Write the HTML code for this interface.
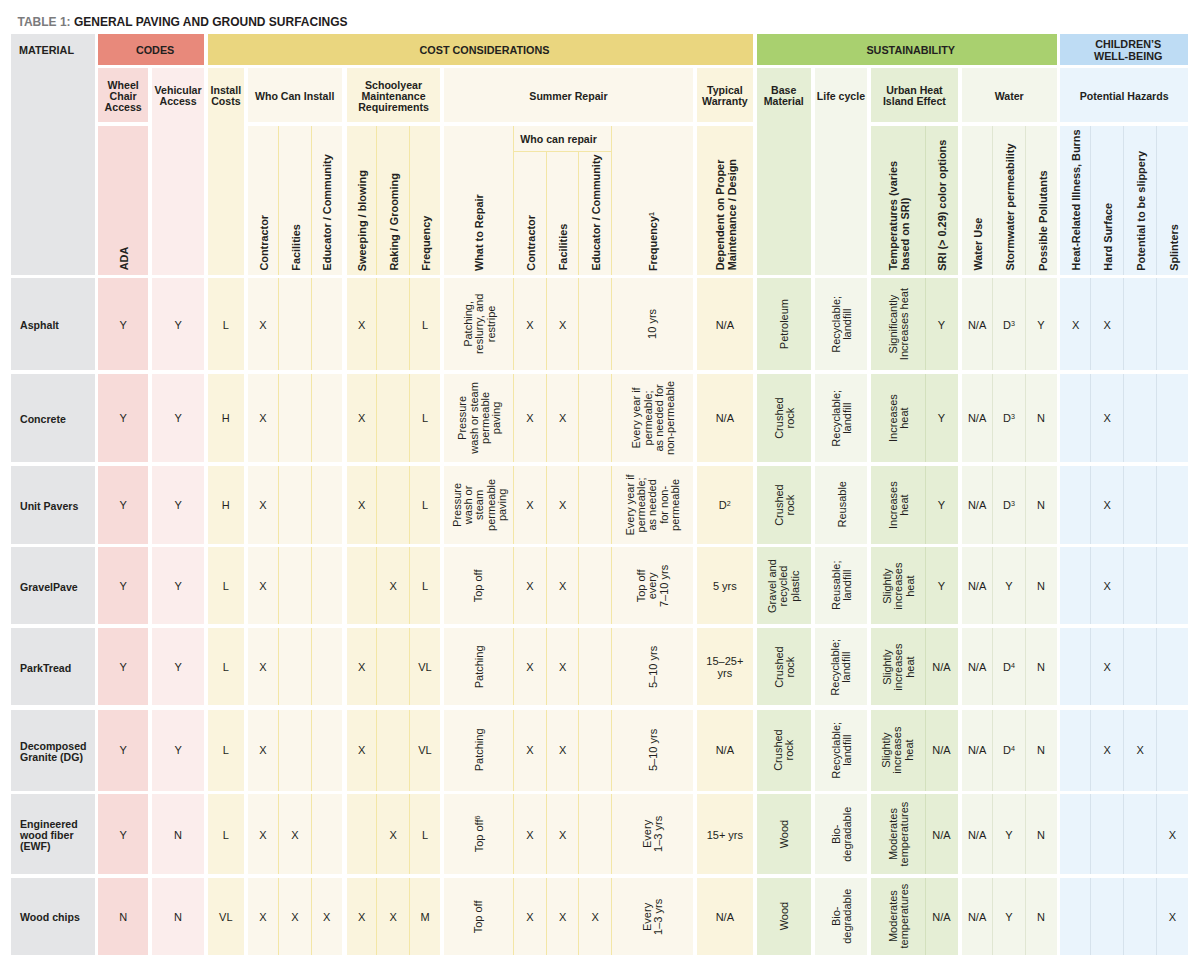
<!DOCTYPE html>
<html><head><meta charset="utf-8"><title>Table 1: General Paving and Ground Surfacings</title>
<style>
*{margin:0;padding:0;box-sizing:border-box}
html,body{width:1200px;height:965px;background:#fff;overflow:hidden}
body{position:relative;font-family:"Liberation Sans",sans-serif;color:#231f20}
.r{position:absolute}
.nopad{padding-left:0}
.wcr{padding-top:0;white-space:nowrap}
.t{position:absolute;display:flex;align-items:center}
.t span{display:block}
.v{transform:rotate(-90deg)}
.title{position:absolute;left:17.5px;top:14px;font-size:12px;font-weight:bold;line-height:16px;white-space:nowrap;color:#1f1c1d}
.title .g{color:#7b7b7d}
.h1{font-size:10.8px;font-weight:bold;line-height:11.2px;padding-left:8px;padding-top:2px}
.h1.nopad{padding-left:0}
.wcr{padding-top:0;white-space:nowrap}
.h2{font-size:10.6px;font-weight:bold;line-height:11px;padding-top:2px}
.h3{font-size:10.9px;font-weight:bold;line-height:11.3px;white-space:nowrap;padding-top:3px}
.m{font-size:10.6px;font-weight:bold;line-height:11px;padding-top:3px}
.d{font-size:11px;line-height:11.2px;white-space:nowrap;padding-top:2px}
sup{font-size:65%;line-height:0;vertical-align:0.45em}
</style></head>
<body>
<div class="r" style="left:11.3px;top:34.2px;width:83.4px;height:240.5px;background:#e4e5e7;"></div>
<div class="r" style="left:98.0px;top:34.2px;width:106.2px;height:30.7px;background:#e8897b;"></div>
<div class="r" style="left:208.0px;top:34.2px;width:545.0px;height:30.7px;background:#ead67f;"></div>
<div class="r" style="left:756.7px;top:34.2px;width:300.0px;height:30.7px;background:#a9d06f;"></div>
<div class="r" style="left:1060.3px;top:34.2px;width:127.7px;height:30.7px;background:#bedcf4;"></div>
<div class="r" style="left:98.0px;top:68.0px;width:50.3px;height:54.3px;background:#f7dbd9;"></div>
<div class="r" style="left:98.0px;top:126.3px;width:50.3px;height:148.4px;background:#f7dbd9;"></div>
<div class="r" style="left:152.0px;top:68.0px;width:52.2px;height:206.7px;background:#fbedec;"></div>
<div class="r" style="left:208.0px;top:68.0px;width:35.7px;height:206.7px;background:#faf4dd;"></div>
<div class="r" style="left:247.5px;top:68.0px;width:94.3px;height:54.3px;background:#fbf7ec;"></div>
<div class="r" style="left:247.5px;top:126.3px;width:94.3px;height:148.4px;background:#fbf7ec;"></div>
<div class="r" style="left:346.6px;top:68.0px;width:93.9px;height:54.3px;background:#faf4dd;"></div>
<div class="r" style="left:346.6px;top:126.3px;width:93.9px;height:148.4px;background:#faf4dd;"></div>
<div class="r" style="left:443.7px;top:68.0px;width:249.6px;height:54.3px;background:#fbf7ec;"></div>
<div class="r" style="left:443.7px;top:126.3px;width:249.6px;height:148.4px;background:#fbf7ec;"></div>
<div class="r" style="left:696.7px;top:68.0px;width:56.3px;height:54.3px;background:#faf4dd;"></div>
<div class="r" style="left:696.7px;top:126.3px;width:56.3px;height:148.4px;background:#faf4dd;"></div>
<div class="r" style="left:756.7px;top:68.0px;width:54.1px;height:206.7px;background:#e5eed5;"></div>
<div class="r" style="left:814.7px;top:68.0px;width:52.5px;height:206.7px;background:#f3f6eb;"></div>
<div class="r" style="left:870.8px;top:68.0px;width:87.2px;height:54.3px;background:#e5eed5;"></div>
<div class="r" style="left:870.8px;top:126.3px;width:87.2px;height:148.4px;background:#e5eed5;"></div>
<div class="r" style="left:961.7px;top:68.0px;width:95.0px;height:54.3px;background:#f3f6eb;"></div>
<div class="r" style="left:961.7px;top:126.3px;width:95.0px;height:148.4px;background:#f3f6eb;"></div>
<div class="r" style="left:1060.3px;top:68.0px;width:127.7px;height:54.3px;background:#eaf4fc;"></div>
<div class="r" style="left:1060.3px;top:126.3px;width:127.7px;height:148.4px;background:#eaf4fc;"></div>
<div class="r" style="left:11.3px;top:278.2px;width:83.4px;height:92.1px;background:#e4e5e7;"></div>
<div class="r" style="left:98.0px;top:278.2px;width:50.3px;height:92.1px;background:#f7dbd9;"></div>
<div class="r" style="left:152.0px;top:278.2px;width:52.2px;height:92.1px;background:#fbedec;"></div>
<div class="r" style="left:208.0px;top:278.2px;width:35.7px;height:92.1px;background:#faf4dd;"></div>
<div class="r" style="left:247.5px;top:278.2px;width:94.3px;height:92.1px;background:#fbf7ec;"></div>
<div class="r" style="left:346.6px;top:278.2px;width:93.9px;height:92.1px;background:#faf4dd;"></div>
<div class="r" style="left:443.7px;top:278.2px;width:249.6px;height:92.1px;background:#fbf7ec;"></div>
<div class="r" style="left:696.7px;top:278.2px;width:56.3px;height:92.1px;background:#faf4dd;"></div>
<div class="r" style="left:756.7px;top:278.2px;width:54.1px;height:92.1px;background:#e5eed5;"></div>
<div class="r" style="left:814.7px;top:278.2px;width:52.5px;height:92.1px;background:#f3f6eb;"></div>
<div class="r" style="left:870.8px;top:278.2px;width:87.2px;height:92.1px;background:#e5eed5;"></div>
<div class="r" style="left:961.7px;top:278.2px;width:95.0px;height:92.1px;background:#f3f6eb;"></div>
<div class="r" style="left:1060.3px;top:278.2px;width:127.7px;height:92.1px;background:#eaf4fc;"></div>
<div class="r" style="left:11.3px;top:374.0px;width:83.4px;height:87.8px;background:#e4e5e7;"></div>
<div class="r" style="left:98.0px;top:374.0px;width:50.3px;height:87.8px;background:#f7dbd9;"></div>
<div class="r" style="left:152.0px;top:374.0px;width:52.2px;height:87.8px;background:#fbedec;"></div>
<div class="r" style="left:208.0px;top:374.0px;width:35.7px;height:87.8px;background:#faf4dd;"></div>
<div class="r" style="left:247.5px;top:374.0px;width:94.3px;height:87.8px;background:#fbf7ec;"></div>
<div class="r" style="left:346.6px;top:374.0px;width:93.9px;height:87.8px;background:#faf4dd;"></div>
<div class="r" style="left:443.7px;top:374.0px;width:249.6px;height:87.8px;background:#fbf7ec;"></div>
<div class="r" style="left:696.7px;top:374.0px;width:56.3px;height:87.8px;background:#faf4dd;"></div>
<div class="r" style="left:756.7px;top:374.0px;width:54.1px;height:87.8px;background:#e5eed5;"></div>
<div class="r" style="left:814.7px;top:374.0px;width:52.5px;height:87.8px;background:#f3f6eb;"></div>
<div class="r" style="left:870.8px;top:374.0px;width:87.2px;height:87.8px;background:#e5eed5;"></div>
<div class="r" style="left:961.7px;top:374.0px;width:95.0px;height:87.8px;background:#f3f6eb;"></div>
<div class="r" style="left:1060.3px;top:374.0px;width:127.7px;height:87.8px;background:#eaf4fc;"></div>
<div class="r" style="left:11.3px;top:465.6px;width:83.4px;height:78.1px;background:#e4e5e7;"></div>
<div class="r" style="left:98.0px;top:465.6px;width:50.3px;height:78.1px;background:#f7dbd9;"></div>
<div class="r" style="left:152.0px;top:465.6px;width:52.2px;height:78.1px;background:#fbedec;"></div>
<div class="r" style="left:208.0px;top:465.6px;width:35.7px;height:78.1px;background:#faf4dd;"></div>
<div class="r" style="left:247.5px;top:465.6px;width:94.3px;height:78.1px;background:#fbf7ec;"></div>
<div class="r" style="left:346.6px;top:465.6px;width:93.9px;height:78.1px;background:#faf4dd;"></div>
<div class="r" style="left:443.7px;top:465.6px;width:249.6px;height:78.1px;background:#fbf7ec;"></div>
<div class="r" style="left:696.7px;top:465.6px;width:56.3px;height:78.1px;background:#faf4dd;"></div>
<div class="r" style="left:756.7px;top:465.6px;width:54.1px;height:78.1px;background:#e5eed5;"></div>
<div class="r" style="left:814.7px;top:465.6px;width:52.5px;height:78.1px;background:#f3f6eb;"></div>
<div class="r" style="left:870.8px;top:465.6px;width:87.2px;height:78.1px;background:#e5eed5;"></div>
<div class="r" style="left:961.7px;top:465.6px;width:95.0px;height:78.1px;background:#f3f6eb;"></div>
<div class="r" style="left:1060.3px;top:465.6px;width:127.7px;height:78.1px;background:#eaf4fc;"></div>
<div class="r" style="left:11.3px;top:547.3px;width:83.4px;height:76.7px;background:#e4e5e7;"></div>
<div class="r" style="left:98.0px;top:547.3px;width:50.3px;height:76.7px;background:#f7dbd9;"></div>
<div class="r" style="left:152.0px;top:547.3px;width:52.2px;height:76.7px;background:#fbedec;"></div>
<div class="r" style="left:208.0px;top:547.3px;width:35.7px;height:76.7px;background:#faf4dd;"></div>
<div class="r" style="left:247.5px;top:547.3px;width:94.3px;height:76.7px;background:#fbf7ec;"></div>
<div class="r" style="left:346.6px;top:547.3px;width:93.9px;height:76.7px;background:#faf4dd;"></div>
<div class="r" style="left:443.7px;top:547.3px;width:249.6px;height:76.7px;background:#fbf7ec;"></div>
<div class="r" style="left:696.7px;top:547.3px;width:56.3px;height:76.7px;background:#faf4dd;"></div>
<div class="r" style="left:756.7px;top:547.3px;width:54.1px;height:76.7px;background:#e5eed5;"></div>
<div class="r" style="left:814.7px;top:547.3px;width:52.5px;height:76.7px;background:#f3f6eb;"></div>
<div class="r" style="left:870.8px;top:547.3px;width:87.2px;height:76.7px;background:#e5eed5;"></div>
<div class="r" style="left:961.7px;top:547.3px;width:95.0px;height:76.7px;background:#f3f6eb;"></div>
<div class="r" style="left:1060.3px;top:547.3px;width:127.7px;height:76.7px;background:#eaf4fc;"></div>
<div class="r" style="left:11.3px;top:628.0px;width:83.4px;height:77.4px;background:#e4e5e7;"></div>
<div class="r" style="left:98.0px;top:628.0px;width:50.3px;height:77.4px;background:#f7dbd9;"></div>
<div class="r" style="left:152.0px;top:628.0px;width:52.2px;height:77.4px;background:#fbedec;"></div>
<div class="r" style="left:208.0px;top:628.0px;width:35.7px;height:77.4px;background:#faf4dd;"></div>
<div class="r" style="left:247.5px;top:628.0px;width:94.3px;height:77.4px;background:#fbf7ec;"></div>
<div class="r" style="left:346.6px;top:628.0px;width:93.9px;height:77.4px;background:#faf4dd;"></div>
<div class="r" style="left:443.7px;top:628.0px;width:249.6px;height:77.4px;background:#fbf7ec;"></div>
<div class="r" style="left:696.7px;top:628.0px;width:56.3px;height:77.4px;background:#faf4dd;"></div>
<div class="r" style="left:756.7px;top:628.0px;width:54.1px;height:77.4px;background:#e5eed5;"></div>
<div class="r" style="left:814.7px;top:628.0px;width:52.5px;height:77.4px;background:#f3f6eb;"></div>
<div class="r" style="left:870.8px;top:628.0px;width:87.2px;height:77.4px;background:#e5eed5;"></div>
<div class="r" style="left:961.7px;top:628.0px;width:95.0px;height:77.4px;background:#f3f6eb;"></div>
<div class="r" style="left:1060.3px;top:628.0px;width:127.7px;height:77.4px;background:#eaf4fc;"></div>
<div class="r" style="left:11.3px;top:709.5px;width:83.4px;height:81.0px;background:#e4e5e7;"></div>
<div class="r" style="left:98.0px;top:709.5px;width:50.3px;height:81.0px;background:#f7dbd9;"></div>
<div class="r" style="left:152.0px;top:709.5px;width:52.2px;height:81.0px;background:#fbedec;"></div>
<div class="r" style="left:208.0px;top:709.5px;width:35.7px;height:81.0px;background:#faf4dd;"></div>
<div class="r" style="left:247.5px;top:709.5px;width:94.3px;height:81.0px;background:#fbf7ec;"></div>
<div class="r" style="left:346.6px;top:709.5px;width:93.9px;height:81.0px;background:#faf4dd;"></div>
<div class="r" style="left:443.7px;top:709.5px;width:249.6px;height:81.0px;background:#fbf7ec;"></div>
<div class="r" style="left:696.7px;top:709.5px;width:56.3px;height:81.0px;background:#faf4dd;"></div>
<div class="r" style="left:756.7px;top:709.5px;width:54.1px;height:81.0px;background:#e5eed5;"></div>
<div class="r" style="left:814.7px;top:709.5px;width:52.5px;height:81.0px;background:#f3f6eb;"></div>
<div class="r" style="left:870.8px;top:709.5px;width:87.2px;height:81.0px;background:#e5eed5;"></div>
<div class="r" style="left:961.7px;top:709.5px;width:95.0px;height:81.0px;background:#f3f6eb;"></div>
<div class="r" style="left:1060.3px;top:709.5px;width:127.7px;height:81.0px;background:#eaf4fc;"></div>
<div class="r" style="left:11.3px;top:794.2px;width:83.4px;height:80.2px;background:#e4e5e7;"></div>
<div class="r" style="left:98.0px;top:794.2px;width:50.3px;height:80.2px;background:#f7dbd9;"></div>
<div class="r" style="left:152.0px;top:794.2px;width:52.2px;height:80.2px;background:#fbedec;"></div>
<div class="r" style="left:208.0px;top:794.2px;width:35.7px;height:80.2px;background:#faf4dd;"></div>
<div class="r" style="left:247.5px;top:794.2px;width:94.3px;height:80.2px;background:#fbf7ec;"></div>
<div class="r" style="left:346.6px;top:794.2px;width:93.9px;height:80.2px;background:#faf4dd;"></div>
<div class="r" style="left:443.7px;top:794.2px;width:249.6px;height:80.2px;background:#fbf7ec;"></div>
<div class="r" style="left:696.7px;top:794.2px;width:56.3px;height:80.2px;background:#faf4dd;"></div>
<div class="r" style="left:756.7px;top:794.2px;width:54.1px;height:80.2px;background:#e5eed5;"></div>
<div class="r" style="left:814.7px;top:794.2px;width:52.5px;height:80.2px;background:#f3f6eb;"></div>
<div class="r" style="left:870.8px;top:794.2px;width:87.2px;height:80.2px;background:#e5eed5;"></div>
<div class="r" style="left:961.7px;top:794.2px;width:95.0px;height:80.2px;background:#f3f6eb;"></div>
<div class="r" style="left:1060.3px;top:794.2px;width:127.7px;height:80.2px;background:#eaf4fc;"></div>
<div class="r" style="left:11.3px;top:878.2px;width:83.4px;height:76.4px;background:#e4e5e7;"></div>
<div class="r" style="left:98.0px;top:878.2px;width:50.3px;height:76.4px;background:#f7dbd9;"></div>
<div class="r" style="left:152.0px;top:878.2px;width:52.2px;height:76.4px;background:#fbedec;"></div>
<div class="r" style="left:208.0px;top:878.2px;width:35.7px;height:76.4px;background:#faf4dd;"></div>
<div class="r" style="left:247.5px;top:878.2px;width:94.3px;height:76.4px;background:#fbf7ec;"></div>
<div class="r" style="left:346.6px;top:878.2px;width:93.9px;height:76.4px;background:#faf4dd;"></div>
<div class="r" style="left:443.7px;top:878.2px;width:249.6px;height:76.4px;background:#fbf7ec;"></div>
<div class="r" style="left:696.7px;top:878.2px;width:56.3px;height:76.4px;background:#faf4dd;"></div>
<div class="r" style="left:756.7px;top:878.2px;width:54.1px;height:76.4px;background:#e5eed5;"></div>
<div class="r" style="left:814.7px;top:878.2px;width:52.5px;height:76.4px;background:#f3f6eb;"></div>
<div class="r" style="left:870.8px;top:878.2px;width:87.2px;height:76.4px;background:#e5eed5;"></div>
<div class="r" style="left:961.7px;top:878.2px;width:95.0px;height:76.4px;background:#f3f6eb;"></div>
<div class="r" style="left:1060.3px;top:878.2px;width:127.7px;height:76.4px;background:#eaf4fc;"></div>
<div class="r" style="left:277.80px;top:126.3px;width:1.0px;height:148.4px;background:#f3e6a6"></div>
<div class="r" style="left:277.80px;top:278.2px;width:1.0px;height:92.1px;background:#f3e6a6"></div>
<div class="r" style="left:277.80px;top:374.0px;width:1.0px;height:87.8px;background:#f3e6a6"></div>
<div class="r" style="left:277.80px;top:465.6px;width:1.0px;height:78.1px;background:#f3e6a6"></div>
<div class="r" style="left:277.80px;top:547.3px;width:1.0px;height:76.7px;background:#f3e6a6"></div>
<div class="r" style="left:277.80px;top:628.0px;width:1.0px;height:77.4px;background:#f3e6a6"></div>
<div class="r" style="left:277.80px;top:709.5px;width:1.0px;height:81.0px;background:#f3e6a6"></div>
<div class="r" style="left:277.80px;top:794.2px;width:1.0px;height:80.2px;background:#f3e6a6"></div>
<div class="r" style="left:277.80px;top:878.2px;width:1.0px;height:76.4px;background:#f3e6a6"></div>
<div class="r" style="left:310.80px;top:126.3px;width:1.0px;height:148.4px;background:#f3e6a6"></div>
<div class="r" style="left:310.80px;top:278.2px;width:1.0px;height:92.1px;background:#f3e6a6"></div>
<div class="r" style="left:310.80px;top:374.0px;width:1.0px;height:87.8px;background:#f3e6a6"></div>
<div class="r" style="left:310.80px;top:465.6px;width:1.0px;height:78.1px;background:#f3e6a6"></div>
<div class="r" style="left:310.80px;top:547.3px;width:1.0px;height:76.7px;background:#f3e6a6"></div>
<div class="r" style="left:310.80px;top:628.0px;width:1.0px;height:77.4px;background:#f3e6a6"></div>
<div class="r" style="left:310.80px;top:709.5px;width:1.0px;height:81.0px;background:#f3e6a6"></div>
<div class="r" style="left:310.80px;top:794.2px;width:1.0px;height:80.2px;background:#f3e6a6"></div>
<div class="r" style="left:310.80px;top:878.2px;width:1.0px;height:76.4px;background:#f3e6a6"></div>
<div class="r" style="left:376.20px;top:126.3px;width:1.0px;height:148.4px;background:#f3e6a6"></div>
<div class="r" style="left:376.20px;top:278.2px;width:1.0px;height:92.1px;background:#f3e6a6"></div>
<div class="r" style="left:376.20px;top:374.0px;width:1.0px;height:87.8px;background:#f3e6a6"></div>
<div class="r" style="left:376.20px;top:465.6px;width:1.0px;height:78.1px;background:#f3e6a6"></div>
<div class="r" style="left:376.20px;top:547.3px;width:1.0px;height:76.7px;background:#f3e6a6"></div>
<div class="r" style="left:376.20px;top:628.0px;width:1.0px;height:77.4px;background:#f3e6a6"></div>
<div class="r" style="left:376.20px;top:709.5px;width:1.0px;height:81.0px;background:#f3e6a6"></div>
<div class="r" style="left:376.20px;top:794.2px;width:1.0px;height:80.2px;background:#f3e6a6"></div>
<div class="r" style="left:376.20px;top:878.2px;width:1.0px;height:76.4px;background:#f3e6a6"></div>
<div class="r" style="left:409.00px;top:126.3px;width:1.0px;height:148.4px;background:#f3e6a6"></div>
<div class="r" style="left:409.00px;top:278.2px;width:1.0px;height:92.1px;background:#f3e6a6"></div>
<div class="r" style="left:409.00px;top:374.0px;width:1.0px;height:87.8px;background:#f3e6a6"></div>
<div class="r" style="left:409.00px;top:465.6px;width:1.0px;height:78.1px;background:#f3e6a6"></div>
<div class="r" style="left:409.00px;top:547.3px;width:1.0px;height:76.7px;background:#f3e6a6"></div>
<div class="r" style="left:409.00px;top:628.0px;width:1.0px;height:77.4px;background:#f3e6a6"></div>
<div class="r" style="left:409.00px;top:709.5px;width:1.0px;height:81.0px;background:#f3e6a6"></div>
<div class="r" style="left:409.00px;top:794.2px;width:1.0px;height:80.2px;background:#f3e6a6"></div>
<div class="r" style="left:409.00px;top:878.2px;width:1.0px;height:76.4px;background:#f3e6a6"></div>
<div class="r" style="left:513.00px;top:126.3px;width:1.0px;height:148.4px;background:#f3e6a6"></div>
<div class="r" style="left:513.00px;top:278.2px;width:1.0px;height:92.1px;background:#f3e6a6"></div>
<div class="r" style="left:513.00px;top:374.0px;width:1.0px;height:87.8px;background:#f3e6a6"></div>
<div class="r" style="left:513.00px;top:465.6px;width:1.0px;height:78.1px;background:#f3e6a6"></div>
<div class="r" style="left:513.00px;top:547.3px;width:1.0px;height:76.7px;background:#f3e6a6"></div>
<div class="r" style="left:513.00px;top:628.0px;width:1.0px;height:77.4px;background:#f3e6a6"></div>
<div class="r" style="left:513.00px;top:709.5px;width:1.0px;height:81.0px;background:#f3e6a6"></div>
<div class="r" style="left:513.00px;top:794.2px;width:1.0px;height:80.2px;background:#f3e6a6"></div>
<div class="r" style="left:513.00px;top:878.2px;width:1.0px;height:76.4px;background:#f3e6a6"></div>
<div class="r" style="left:546.00px;top:151.3px;width:1.0px;height:123.4px;background:#f3e6a6"></div>
<div class="r" style="left:546.00px;top:278.2px;width:1.0px;height:92.1px;background:#f3e6a6"></div>
<div class="r" style="left:546.00px;top:374.0px;width:1.0px;height:87.8px;background:#f3e6a6"></div>
<div class="r" style="left:546.00px;top:465.6px;width:1.0px;height:78.1px;background:#f3e6a6"></div>
<div class="r" style="left:546.00px;top:547.3px;width:1.0px;height:76.7px;background:#f3e6a6"></div>
<div class="r" style="left:546.00px;top:628.0px;width:1.0px;height:77.4px;background:#f3e6a6"></div>
<div class="r" style="left:546.00px;top:709.5px;width:1.0px;height:81.0px;background:#f3e6a6"></div>
<div class="r" style="left:546.00px;top:794.2px;width:1.0px;height:80.2px;background:#f3e6a6"></div>
<div class="r" style="left:546.00px;top:878.2px;width:1.0px;height:76.4px;background:#f3e6a6"></div>
<div class="r" style="left:578.20px;top:151.3px;width:1.0px;height:123.4px;background:#f3e6a6"></div>
<div class="r" style="left:578.20px;top:278.2px;width:1.0px;height:92.1px;background:#f3e6a6"></div>
<div class="r" style="left:578.20px;top:374.0px;width:1.0px;height:87.8px;background:#f3e6a6"></div>
<div class="r" style="left:578.20px;top:465.6px;width:1.0px;height:78.1px;background:#f3e6a6"></div>
<div class="r" style="left:578.20px;top:547.3px;width:1.0px;height:76.7px;background:#f3e6a6"></div>
<div class="r" style="left:578.20px;top:628.0px;width:1.0px;height:77.4px;background:#f3e6a6"></div>
<div class="r" style="left:578.20px;top:709.5px;width:1.0px;height:81.0px;background:#f3e6a6"></div>
<div class="r" style="left:578.20px;top:794.2px;width:1.0px;height:80.2px;background:#f3e6a6"></div>
<div class="r" style="left:578.20px;top:878.2px;width:1.0px;height:76.4px;background:#f3e6a6"></div>
<div class="r" style="left:611.00px;top:126.3px;width:1.0px;height:148.4px;background:#f3e6a6"></div>
<div class="r" style="left:611.00px;top:278.2px;width:1.0px;height:92.1px;background:#f3e6a6"></div>
<div class="r" style="left:611.00px;top:374.0px;width:1.0px;height:87.8px;background:#f3e6a6"></div>
<div class="r" style="left:611.00px;top:465.6px;width:1.0px;height:78.1px;background:#f3e6a6"></div>
<div class="r" style="left:611.00px;top:547.3px;width:1.0px;height:76.7px;background:#f3e6a6"></div>
<div class="r" style="left:611.00px;top:628.0px;width:1.0px;height:77.4px;background:#f3e6a6"></div>
<div class="r" style="left:611.00px;top:709.5px;width:1.0px;height:81.0px;background:#f3e6a6"></div>
<div class="r" style="left:611.00px;top:794.2px;width:1.0px;height:80.2px;background:#f3e6a6"></div>
<div class="r" style="left:611.00px;top:878.2px;width:1.0px;height:76.4px;background:#f3e6a6"></div>
<div class="r" style="left:924.50px;top:126.3px;width:1.0px;height:148.4px;background:#d3e0bd"></div>
<div class="r" style="left:924.50px;top:278.2px;width:1.0px;height:92.1px;background:#d3e0bd"></div>
<div class="r" style="left:924.50px;top:374.0px;width:1.0px;height:87.8px;background:#d3e0bd"></div>
<div class="r" style="left:924.50px;top:465.6px;width:1.0px;height:78.1px;background:#d3e0bd"></div>
<div class="r" style="left:924.50px;top:547.3px;width:1.0px;height:76.7px;background:#d3e0bd"></div>
<div class="r" style="left:924.50px;top:628.0px;width:1.0px;height:77.4px;background:#d3e0bd"></div>
<div class="r" style="left:924.50px;top:709.5px;width:1.0px;height:81.0px;background:#d3e0bd"></div>
<div class="r" style="left:924.50px;top:794.2px;width:1.0px;height:80.2px;background:#d3e0bd"></div>
<div class="r" style="left:924.50px;top:878.2px;width:1.0px;height:76.4px;background:#d3e0bd"></div>
<div class="r" style="left:992.00px;top:126.3px;width:1.0px;height:148.4px;background:#e0e6d2"></div>
<div class="r" style="left:992.00px;top:278.2px;width:1.0px;height:92.1px;background:#e0e6d2"></div>
<div class="r" style="left:992.00px;top:374.0px;width:1.0px;height:87.8px;background:#e0e6d2"></div>
<div class="r" style="left:992.00px;top:465.6px;width:1.0px;height:78.1px;background:#e0e6d2"></div>
<div class="r" style="left:992.00px;top:547.3px;width:1.0px;height:76.7px;background:#e0e6d2"></div>
<div class="r" style="left:992.00px;top:628.0px;width:1.0px;height:77.4px;background:#e0e6d2"></div>
<div class="r" style="left:992.00px;top:709.5px;width:1.0px;height:81.0px;background:#e0e6d2"></div>
<div class="r" style="left:992.00px;top:794.2px;width:1.0px;height:80.2px;background:#e0e6d2"></div>
<div class="r" style="left:992.00px;top:878.2px;width:1.0px;height:76.4px;background:#e0e6d2"></div>
<div class="r" style="left:1024.80px;top:126.3px;width:1.0px;height:148.4px;background:#e0e6d2"></div>
<div class="r" style="left:1024.80px;top:278.2px;width:1.0px;height:92.1px;background:#e0e6d2"></div>
<div class="r" style="left:1024.80px;top:374.0px;width:1.0px;height:87.8px;background:#e0e6d2"></div>
<div class="r" style="left:1024.80px;top:465.6px;width:1.0px;height:78.1px;background:#e0e6d2"></div>
<div class="r" style="left:1024.80px;top:547.3px;width:1.0px;height:76.7px;background:#e0e6d2"></div>
<div class="r" style="left:1024.80px;top:628.0px;width:1.0px;height:77.4px;background:#e0e6d2"></div>
<div class="r" style="left:1024.80px;top:709.5px;width:1.0px;height:81.0px;background:#e0e6d2"></div>
<div class="r" style="left:1024.80px;top:794.2px;width:1.0px;height:80.2px;background:#e0e6d2"></div>
<div class="r" style="left:1024.80px;top:878.2px;width:1.0px;height:76.4px;background:#e0e6d2"></div>
<div class="r" style="left:1090.30px;top:126.3px;width:1.0px;height:148.4px;background:#d6e2ec"></div>
<div class="r" style="left:1090.30px;top:278.2px;width:1.0px;height:92.1px;background:#d6e2ec"></div>
<div class="r" style="left:1090.30px;top:374.0px;width:1.0px;height:87.8px;background:#d6e2ec"></div>
<div class="r" style="left:1090.30px;top:465.6px;width:1.0px;height:78.1px;background:#d6e2ec"></div>
<div class="r" style="left:1090.30px;top:547.3px;width:1.0px;height:76.7px;background:#d6e2ec"></div>
<div class="r" style="left:1090.30px;top:628.0px;width:1.0px;height:77.4px;background:#d6e2ec"></div>
<div class="r" style="left:1090.30px;top:709.5px;width:1.0px;height:81.0px;background:#d6e2ec"></div>
<div class="r" style="left:1090.30px;top:794.2px;width:1.0px;height:80.2px;background:#d6e2ec"></div>
<div class="r" style="left:1090.30px;top:878.2px;width:1.0px;height:76.4px;background:#d6e2ec"></div>
<div class="r" style="left:1123.20px;top:126.3px;width:1.0px;height:148.4px;background:#d6e2ec"></div>
<div class="r" style="left:1123.20px;top:278.2px;width:1.0px;height:92.1px;background:#d6e2ec"></div>
<div class="r" style="left:1123.20px;top:374.0px;width:1.0px;height:87.8px;background:#d6e2ec"></div>
<div class="r" style="left:1123.20px;top:465.6px;width:1.0px;height:78.1px;background:#d6e2ec"></div>
<div class="r" style="left:1123.20px;top:547.3px;width:1.0px;height:76.7px;background:#d6e2ec"></div>
<div class="r" style="left:1123.20px;top:628.0px;width:1.0px;height:77.4px;background:#d6e2ec"></div>
<div class="r" style="left:1123.20px;top:709.5px;width:1.0px;height:81.0px;background:#d6e2ec"></div>
<div class="r" style="left:1123.20px;top:794.2px;width:1.0px;height:80.2px;background:#d6e2ec"></div>
<div class="r" style="left:1123.20px;top:878.2px;width:1.0px;height:76.4px;background:#d6e2ec"></div>
<div class="r" style="left:1156.20px;top:126.3px;width:1.0px;height:148.4px;background:#d6e2ec"></div>
<div class="r" style="left:1156.20px;top:278.2px;width:1.0px;height:92.1px;background:#d6e2ec"></div>
<div class="r" style="left:1156.20px;top:374.0px;width:1.0px;height:87.8px;background:#d6e2ec"></div>
<div class="r" style="left:1156.20px;top:465.6px;width:1.0px;height:78.1px;background:#d6e2ec"></div>
<div class="r" style="left:1156.20px;top:547.3px;width:1.0px;height:76.7px;background:#d6e2ec"></div>
<div class="r" style="left:1156.20px;top:628.0px;width:1.0px;height:77.4px;background:#d6e2ec"></div>
<div class="r" style="left:1156.20px;top:709.5px;width:1.0px;height:81.0px;background:#d6e2ec"></div>
<div class="r" style="left:1156.20px;top:794.2px;width:1.0px;height:80.2px;background:#d6e2ec"></div>
<div class="r" style="left:1156.20px;top:878.2px;width:1.0px;height:76.4px;background:#d6e2ec"></div>
<div class="r" style="left:513.5px;top:150.80px;width:98.0px;height:1.0px;background:#f3e6a6"></div>
<div class="title"><span class="g">TABLE 1:</span> GENERAL PAVING AND GROUND SURFACINGS</div>
<div class="t h1 nopad" style="left:19.0px;top:34.2px;width:75.0px;height:30.7px;justify-content:flex-start;text-align:left;"><span>MATERIAL</span></div>
<div class="t h1" style="left:98.0px;top:34.2px;width:106.2px;height:30.7px;justify-content:center;text-align:center;"><span>CODES</span></div>
<div class="t h1" style="left:208.0px;top:34.2px;width:545.0px;height:30.7px;justify-content:center;text-align:center;"><span>COST CONSIDERATIONS</span></div>
<div class="t h1" style="left:756.7px;top:34.2px;width:300.0px;height:30.7px;justify-content:center;text-align:center;"><span>SUSTAINABILITY</span></div>
<div class="t h1" style="left:1060.3px;top:34.2px;width:127.7px;height:30.7px;justify-content:center;text-align:center;"><span>CHILDREN&rsquo;S<br>WELL-BEING</span></div>
<div class="t h2" style="left:98.0px;top:68.0px;width:50.3px;height:54.3px;justify-content:center;text-align:center;"><span>Wheel<br>Chair<br>Access</span></div>
<div class="t h2" style="left:152.0px;top:68.0px;width:52.2px;height:54.3px;justify-content:center;text-align:center;"><span>Vehicular<br>Access</span></div>
<div class="t h2" style="left:208.0px;top:68.0px;width:35.7px;height:54.3px;justify-content:center;text-align:center;"><span>Install<br>Costs</span></div>
<div class="t h2" style="left:247.5px;top:68.0px;width:94.3px;height:54.3px;justify-content:center;text-align:center;"><span>Who Can Install</span></div>
<div class="t h2" style="left:346.6px;top:68.0px;width:93.9px;height:54.3px;justify-content:center;text-align:center;"><span>Schoolyear<br>Maintenance<br>Requirements</span></div>
<div class="t h2" style="left:443.7px;top:68.0px;width:249.6px;height:54.3px;justify-content:center;text-align:center;"><span>Summer Repair</span></div>
<div class="t h2" style="left:696.7px;top:68.0px;width:56.3px;height:54.3px;justify-content:center;text-align:center;"><span>Typical<br>Warranty</span></div>
<div class="t h2" style="left:756.7px;top:68.0px;width:54.1px;height:54.3px;justify-content:center;text-align:center;"><span>Base<br>Material</span></div>
<div class="t h2" style="left:814.7px;top:68.0px;width:52.5px;height:54.3px;justify-content:center;text-align:center;"><span>Life cycle</span></div>
<div class="t h2" style="left:870.8px;top:68.0px;width:87.2px;height:54.3px;justify-content:center;text-align:center;"><span>Urban Heat<br>Island Effect</span></div>
<div class="t h2" style="left:961.7px;top:68.0px;width:95.0px;height:54.3px;justify-content:center;text-align:center;"><span>Water</span></div>
<div class="t h2" style="left:1060.3px;top:68.0px;width:127.7px;height:54.3px;justify-content:center;text-align:center;"><span>Potential Hazards</span></div>
<div class="t v h3" style="left:49.0px;top:175.3px;width:148.4px;height:50.3px;justify-content:flex-start;text-align:left;padding-left:4px;"><span>ADA</span></div>
<div class="t v h3" style="left:188.7px;top:185.1px;width:148.4px;height:30.8px;justify-content:flex-start;text-align:left;padding-left:4px;"><span>Contractor</span></div>
<div class="t v h3" style="left:220.6px;top:184.0px;width:148.4px;height:33.0px;justify-content:flex-start;text-align:left;padding-left:4px;"><span>Facilities</span></div>
<div class="t v h3" style="left:252.4px;top:185.2px;width:148.4px;height:30.5px;justify-content:flex-start;text-align:left;padding-left:4px;"><span>Educator / Community</span></div>
<div class="t v h3" style="left:287.4px;top:185.5px;width:148.4px;height:30.1px;justify-content:flex-start;text-align:left;padding-left:4px;"><span>Sweeping / blowing</span></div>
<div class="t v h3" style="left:318.9px;top:184.1px;width:148.4px;height:32.8px;justify-content:flex-start;text-align:left;padding-left:4px;"><span>Raking / Grooming</span></div>
<div class="t v h3" style="left:350.8px;top:185.0px;width:148.4px;height:31.0px;justify-content:flex-start;text-align:left;padding-left:4px;"><span>Frequency</span></div>
<div class="t v h3" style="left:404.4px;top:165.6px;width:148.4px;height:69.8px;justify-content:flex-start;text-align:left;padding-left:4px;"><span>What to Repair</span></div>
<div class="t v h3" style="left:455.8px;top:184.0px;width:148.4px;height:33.0px;justify-content:flex-start;text-align:left;padding-left:4px;"><span>Contractor</span></div>
<div class="t v h3" style="left:488.4px;top:184.4px;width:148.4px;height:32.2px;justify-content:flex-start;text-align:left;padding-left:4px;"><span>Facilities</span></div>
<div class="t v h3" style="left:520.9px;top:184.1px;width:148.4px;height:32.8px;justify-content:flex-start;text-align:left;padding-left:4px;"><span>Educator / Community</span></div>
<div class="t v h3" style="left:578.2px;top:159.6px;width:148.4px;height:81.8px;justify-content:flex-start;text-align:left;padding-left:4px;"><span>Frequency<sup>1</sup></span></div>
<div class="t v h3" style="left:650.7px;top:172.4px;width:148.4px;height:56.3px;justify-content:flex-start;text-align:left;padding-left:4px;"><span>Dependent on Proper<br>Maintenance / Design</span></div>
<div class="t v h3" style="left:823.7px;top:173.4px;width:148.4px;height:54.2px;justify-content:flex-start;text-align:left;padding-left:4px;"><span>Temperatures (varies<br>based on SRI)</span></div>
<div class="t v h3" style="left:867.3px;top:184.0px;width:148.4px;height:33.0px;justify-content:flex-start;text-align:left;padding-left:4px;"><span>SRI (&gt; 0.29) color options</span></div>
<div class="t v h3" style="left:902.9px;top:185.1px;width:148.4px;height:30.8px;justify-content:flex-start;text-align:left;padding-left:4px;"><span>Water Use</span></div>
<div class="t v h3" style="left:934.7px;top:184.1px;width:148.4px;height:32.8px;justify-content:flex-start;text-align:left;padding-left:4px;"><span>Stormwater permeability</span></div>
<div class="t v h3" style="left:966.8px;top:184.8px;width:148.4px;height:31.4px;justify-content:flex-start;text-align:left;padding-left:4px;"><span>Possible Pollutants</span></div>
<div class="t v h3" style="left:1001.3px;top:185.2px;width:148.4px;height:30.5px;justify-content:flex-start;text-align:left;padding-left:4px;"><span>Heat-Related Illness, Burns</span></div>
<div class="t v h3" style="left:1033.0px;top:184.0px;width:148.4px;height:32.9px;justify-content:flex-start;text-align:left;padding-left:4px;"><span>Hard Surface</span></div>
<div class="t v h3" style="left:1066.0px;top:184.0px;width:148.4px;height:33.0px;justify-content:flex-start;text-align:left;padding-left:4px;"><span>Potential to be slippery</span></div>
<div class="t v h3" style="left:1098.1px;top:184.9px;width:148.4px;height:31.3px;justify-content:flex-start;text-align:left;padding-left:4px;"><span>Splinters</span></div>
<div class="t h2 wcr" style="left:520.3px;top:126.3px;width:91.2px;height:25.0px;justify-content:flex-start;text-align:left;"><span>Who can repair</span></div>
<div class="t m" style="left:20.0px;top:278.2px;width:74.0px;height:92.1px;justify-content:flex-start;text-align:left;"><span>Asphalt</span></div>
<div class="t d" style="left:98.0px;top:278.2px;width:50.3px;height:92.1px;justify-content:center;text-align:center;"><span>Y</span></div>
<div class="t d" style="left:152.0px;top:278.2px;width:52.2px;height:92.1px;justify-content:center;text-align:center;"><span>Y</span></div>
<div class="t d" style="left:208.0px;top:278.2px;width:35.7px;height:92.1px;justify-content:center;text-align:center;"><span>L</span></div>
<div class="t d" style="left:696.7px;top:278.2px;width:56.3px;height:92.1px;justify-content:center;text-align:center;"><span>N/A</span></div>
<div class="t v d" style="left:737.7px;top:297.2px;width:92.1px;height:54.1px;justify-content:center;text-align:center;padding-left:0px;"><span>Petroleum</span></div>
<div class="t v d" style="left:794.9px;top:298.0px;width:92.1px;height:52.5px;justify-content:center;text-align:center;padding-left:0px;"><span>Recyclable;<br>landfill</span></div>
<div class="t d" style="left:247.5px;top:278.2px;width:30.8px;height:92.1px;justify-content:center;text-align:center;"><span>X</span></div>
<div class="t d" style="left:346.6px;top:278.2px;width:30.1px;height:92.1px;justify-content:center;text-align:center;"><span>X</span></div>
<div class="t d" style="left:409.5px;top:278.2px;width:31.0px;height:92.1px;justify-content:center;text-align:center;"><span>L</span></div>
<div class="t v d" style="left:432.6px;top:289.4px;width:92.1px;height:69.8px;justify-content:center;text-align:center;padding-left:0px;"><span>Patching,<br>reslurry, and<br>restripe</span></div>
<div class="t d" style="left:513.5px;top:278.2px;width:33.0px;height:92.1px;justify-content:center;text-align:center;"><span>X</span></div>
<div class="t d" style="left:546.5px;top:278.2px;width:32.2px;height:92.1px;justify-content:center;text-align:center;"><span>X</span></div>
<div class="t v d" style="left:606.3px;top:283.4px;width:92.1px;height:81.8px;justify-content:center;text-align:center;padding-left:0px;"><span>10 yrs</span></div>
<div class="t v d" style="left:851.8px;top:297.1px;width:92.1px;height:54.2px;justify-content:center;text-align:center;padding-left:0px;"><span>Significantly<br>Increases heat</span></div>
<div class="t d" style="left:925.0px;top:278.2px;width:33.0px;height:92.1px;justify-content:center;text-align:center;"><span>Y</span></div>
<div class="t d" style="left:961.7px;top:278.2px;width:30.8px;height:92.1px;justify-content:center;text-align:center;"><span>N/A</span></div>
<div class="t d" style="left:992.5px;top:278.2px;width:32.8px;height:92.1px;justify-content:center;text-align:center;"><span>D<sup>3</sup></span></div>
<div class="t d" style="left:1025.3px;top:278.2px;width:31.4px;height:92.1px;justify-content:center;text-align:center;"><span>Y</span></div>
<div class="t d" style="left:1060.3px;top:278.2px;width:30.5px;height:92.1px;justify-content:center;text-align:center;"><span>X</span></div>
<div class="t d" style="left:1090.8px;top:278.2px;width:32.9px;height:92.1px;justify-content:center;text-align:center;"><span>X</span></div>
<div class="t m" style="left:20.0px;top:374.0px;width:74.0px;height:87.8px;justify-content:flex-start;text-align:left;"><span>Concrete</span></div>
<div class="t d" style="left:98.0px;top:374.0px;width:50.3px;height:87.8px;justify-content:center;text-align:center;"><span>Y</span></div>
<div class="t d" style="left:152.0px;top:374.0px;width:52.2px;height:87.8px;justify-content:center;text-align:center;"><span>Y</span></div>
<div class="t d" style="left:208.0px;top:374.0px;width:35.7px;height:87.8px;justify-content:center;text-align:center;"><span>H</span></div>
<div class="t d" style="left:696.7px;top:374.0px;width:56.3px;height:87.8px;justify-content:center;text-align:center;"><span>N/A</span></div>
<div class="t v d" style="left:739.9px;top:390.9px;width:87.8px;height:54.1px;justify-content:center;text-align:center;padding-left:0px;"><span>Crushed<br>rock</span></div>
<div class="t v d" style="left:797.1px;top:391.6px;width:87.8px;height:52.5px;justify-content:center;text-align:center;padding-left:0px;"><span>Recyclable;<br>landfill</span></div>
<div class="t d" style="left:247.5px;top:374.0px;width:30.8px;height:87.8px;justify-content:center;text-align:center;"><span>X</span></div>
<div class="t d" style="left:346.6px;top:374.0px;width:30.1px;height:87.8px;justify-content:center;text-align:center;"><span>X</span></div>
<div class="t d" style="left:409.5px;top:374.0px;width:31.0px;height:87.8px;justify-content:center;text-align:center;"><span>L</span></div>
<div class="t v d" style="left:434.7px;top:383.0px;width:87.8px;height:69.8px;justify-content:center;text-align:center;padding-left:0px;"><span>Pressure<br>wash or steam<br>permeable<br>paving</span></div>
<div class="t d" style="left:513.5px;top:374.0px;width:33.0px;height:87.8px;justify-content:center;text-align:center;"><span>X</span></div>
<div class="t d" style="left:546.5px;top:374.0px;width:32.2px;height:87.8px;justify-content:center;text-align:center;"><span>X</span></div>
<div class="t v d" style="left:608.5px;top:377.0px;width:87.8px;height:81.8px;justify-content:center;text-align:center;padding-left:0px;"><span>Every year if<br>permeable;<br>as needed for<br>non-permeable</span></div>
<div class="t v d" style="left:854.0px;top:390.8px;width:87.8px;height:54.2px;justify-content:center;text-align:center;padding-left:0px;"><span>Increases<br>heat</span></div>
<div class="t d" style="left:925.0px;top:374.0px;width:33.0px;height:87.8px;justify-content:center;text-align:center;"><span>Y</span></div>
<div class="t d" style="left:961.7px;top:374.0px;width:30.8px;height:87.8px;justify-content:center;text-align:center;"><span>N/A</span></div>
<div class="t d" style="left:992.5px;top:374.0px;width:32.8px;height:87.8px;justify-content:center;text-align:center;"><span>D<sup>3</sup></span></div>
<div class="t d" style="left:1025.3px;top:374.0px;width:31.4px;height:87.8px;justify-content:center;text-align:center;"><span>N</span></div>
<div class="t d" style="left:1090.8px;top:374.0px;width:32.9px;height:87.8px;justify-content:center;text-align:center;"><span>X</span></div>
<div class="t m" style="left:20.0px;top:465.6px;width:74.0px;height:78.1px;justify-content:flex-start;text-align:left;"><span>Unit Pavers</span></div>
<div class="t d" style="left:98.0px;top:465.6px;width:50.3px;height:78.1px;justify-content:center;text-align:center;"><span>Y</span></div>
<div class="t d" style="left:152.0px;top:465.6px;width:52.2px;height:78.1px;justify-content:center;text-align:center;"><span>Y</span></div>
<div class="t d" style="left:208.0px;top:465.6px;width:35.7px;height:78.1px;justify-content:center;text-align:center;"><span>H</span></div>
<div class="t d" style="left:696.7px;top:465.6px;width:56.3px;height:78.1px;justify-content:center;text-align:center;"><span>D<sup>2</sup></span></div>
<div class="t v d" style="left:744.7px;top:477.6px;width:78.1px;height:54.1px;justify-content:center;text-align:center;padding-left:0px;"><span>Crushed<br>rock</span></div>
<div class="t v d" style="left:801.9px;top:478.4px;width:78.1px;height:52.5px;justify-content:center;text-align:center;padding-left:0px;"><span>Reusable</span></div>
<div class="t d" style="left:247.5px;top:465.6px;width:30.8px;height:78.1px;justify-content:center;text-align:center;"><span>X</span></div>
<div class="t d" style="left:346.6px;top:465.6px;width:30.1px;height:78.1px;justify-content:center;text-align:center;"><span>X</span></div>
<div class="t d" style="left:409.5px;top:465.6px;width:31.0px;height:78.1px;justify-content:center;text-align:center;"><span>L</span></div>
<div class="t v d" style="left:439.6px;top:469.8px;width:78.1px;height:69.8px;justify-content:center;text-align:center;padding-left:0px;"><span>Pressure<br>wash or<br>steam<br>permeable<br>paving</span></div>
<div class="t d" style="left:513.5px;top:465.6px;width:33.0px;height:78.1px;justify-content:center;text-align:center;"><span>X</span></div>
<div class="t d" style="left:546.5px;top:465.6px;width:32.2px;height:78.1px;justify-content:center;text-align:center;"><span>X</span></div>
<div class="t v d" style="left:613.3px;top:463.8px;width:78.1px;height:81.8px;justify-content:center;text-align:center;padding-left:0px;"><span>Every year if<br>permeable;<br>as needed<br>for non-<br>permeable</span></div>
<div class="t v d" style="left:858.8px;top:477.6px;width:78.1px;height:54.2px;justify-content:center;text-align:center;padding-left:0px;"><span>Increases<br>heat</span></div>
<div class="t d" style="left:925.0px;top:465.6px;width:33.0px;height:78.1px;justify-content:center;text-align:center;"><span>Y</span></div>
<div class="t d" style="left:961.7px;top:465.6px;width:30.8px;height:78.1px;justify-content:center;text-align:center;"><span>N/A</span></div>
<div class="t d" style="left:992.5px;top:465.6px;width:32.8px;height:78.1px;justify-content:center;text-align:center;"><span>D<sup>3</sup></span></div>
<div class="t d" style="left:1025.3px;top:465.6px;width:31.4px;height:78.1px;justify-content:center;text-align:center;"><span>N</span></div>
<div class="t d" style="left:1090.8px;top:465.6px;width:32.9px;height:78.1px;justify-content:center;text-align:center;"><span>X</span></div>
<div class="t m" style="left:20.0px;top:547.3px;width:74.0px;height:76.7px;justify-content:flex-start;text-align:left;"><span>GravelPave</span></div>
<div class="t d" style="left:98.0px;top:547.3px;width:50.3px;height:76.7px;justify-content:center;text-align:center;"><span>Y</span></div>
<div class="t d" style="left:152.0px;top:547.3px;width:52.2px;height:76.7px;justify-content:center;text-align:center;"><span>Y</span></div>
<div class="t d" style="left:208.0px;top:547.3px;width:35.7px;height:76.7px;justify-content:center;text-align:center;"><span>L</span></div>
<div class="t d" style="left:696.7px;top:547.3px;width:56.3px;height:76.7px;justify-content:center;text-align:center;"><span>5 yrs</span></div>
<div class="t v d" style="left:745.4px;top:558.6px;width:76.7px;height:54.1px;justify-content:center;text-align:center;padding-left:0px;"><span>Gravel and<br>recycled<br>plastic</span></div>
<div class="t v d" style="left:802.6px;top:559.4px;width:76.7px;height:52.5px;justify-content:center;text-align:center;padding-left:0px;"><span>Reusable;<br>landfill</span></div>
<div class="t d" style="left:247.5px;top:547.3px;width:30.8px;height:76.7px;justify-content:center;text-align:center;"><span>X</span></div>
<div class="t d" style="left:376.7px;top:547.3px;width:32.8px;height:76.7px;justify-content:center;text-align:center;"><span>X</span></div>
<div class="t d" style="left:409.5px;top:547.3px;width:31.0px;height:76.7px;justify-content:center;text-align:center;"><span>L</span></div>
<div class="t v d" style="left:440.2px;top:550.8px;width:76.7px;height:69.8px;justify-content:center;text-align:center;padding-left:0px;"><span>Top off</span></div>
<div class="t d" style="left:513.5px;top:547.3px;width:33.0px;height:76.7px;justify-content:center;text-align:center;"><span>X</span></div>
<div class="t d" style="left:546.5px;top:547.3px;width:32.2px;height:76.7px;justify-content:center;text-align:center;"><span>X</span></div>
<div class="t v d" style="left:614.0px;top:544.8px;width:76.7px;height:81.8px;justify-content:center;text-align:center;padding-left:0px;"><span>Top off<br>every<br>7&ndash;10 yrs</span></div>
<div class="t v d" style="left:859.5px;top:558.5px;width:76.7px;height:54.2px;justify-content:center;text-align:center;padding-left:0px;"><span>Slightly<br>increases<br>heat</span></div>
<div class="t d" style="left:925.0px;top:547.3px;width:33.0px;height:76.7px;justify-content:center;text-align:center;"><span>Y</span></div>
<div class="t d" style="left:961.7px;top:547.3px;width:30.8px;height:76.7px;justify-content:center;text-align:center;"><span>N/A</span></div>
<div class="t d" style="left:992.5px;top:547.3px;width:32.8px;height:76.7px;justify-content:center;text-align:center;"><span>Y</span></div>
<div class="t d" style="left:1025.3px;top:547.3px;width:31.4px;height:76.7px;justify-content:center;text-align:center;"><span>N</span></div>
<div class="t d" style="left:1090.8px;top:547.3px;width:32.9px;height:76.7px;justify-content:center;text-align:center;"><span>X</span></div>
<div class="t m" style="left:20.0px;top:628.0px;width:74.0px;height:77.4px;justify-content:flex-start;text-align:left;"><span>ParkTread</span></div>
<div class="t d" style="left:98.0px;top:628.0px;width:50.3px;height:77.4px;justify-content:center;text-align:center;"><span>Y</span></div>
<div class="t d" style="left:152.0px;top:628.0px;width:52.2px;height:77.4px;justify-content:center;text-align:center;"><span>Y</span></div>
<div class="t d" style="left:208.0px;top:628.0px;width:35.7px;height:77.4px;justify-content:center;text-align:center;"><span>L</span></div>
<div class="t d" style="left:696.7px;top:628.0px;width:56.3px;height:77.4px;justify-content:center;text-align:center;"><span>15&ndash;25+<br>yrs</span></div>
<div class="t v d" style="left:745.0px;top:639.7px;width:77.4px;height:54.1px;justify-content:center;text-align:center;padding-left:0px;"><span>Crushed<br>rock</span></div>
<div class="t v d" style="left:802.2px;top:640.5px;width:77.4px;height:52.5px;justify-content:center;text-align:center;padding-left:0px;"><span>Recyclable;<br>landfill</span></div>
<div class="t d" style="left:247.5px;top:628.0px;width:30.8px;height:77.4px;justify-content:center;text-align:center;"><span>X</span></div>
<div class="t d" style="left:346.6px;top:628.0px;width:30.1px;height:77.4px;justify-content:center;text-align:center;"><span>X</span></div>
<div class="t d" style="left:409.5px;top:628.0px;width:31.0px;height:77.4px;justify-content:center;text-align:center;"><span>VL</span></div>
<div class="t v d" style="left:439.9px;top:631.8px;width:77.4px;height:69.8px;justify-content:center;text-align:center;padding-left:0px;"><span>Patching</span></div>
<div class="t d" style="left:513.5px;top:628.0px;width:33.0px;height:77.4px;justify-content:center;text-align:center;"><span>X</span></div>
<div class="t d" style="left:546.5px;top:628.0px;width:32.2px;height:77.4px;justify-content:center;text-align:center;"><span>X</span></div>
<div class="t v d" style="left:613.7px;top:625.8px;width:77.4px;height:81.8px;justify-content:center;text-align:center;padding-left:0px;"><span>5&ndash;10 yrs</span></div>
<div class="t v d" style="left:859.2px;top:639.6px;width:77.4px;height:54.2px;justify-content:center;text-align:center;padding-left:0px;"><span>Slightly<br>increases<br>heat</span></div>
<div class="t d" style="left:925.0px;top:628.0px;width:33.0px;height:77.4px;justify-content:center;text-align:center;"><span>N/A</span></div>
<div class="t d" style="left:961.7px;top:628.0px;width:30.8px;height:77.4px;justify-content:center;text-align:center;"><span>N/A</span></div>
<div class="t d" style="left:992.5px;top:628.0px;width:32.8px;height:77.4px;justify-content:center;text-align:center;"><span>D<sup>4</sup></span></div>
<div class="t d" style="left:1025.3px;top:628.0px;width:31.4px;height:77.4px;justify-content:center;text-align:center;"><span>N</span></div>
<div class="t d" style="left:1090.8px;top:628.0px;width:32.9px;height:77.4px;justify-content:center;text-align:center;"><span>X</span></div>
<div class="t m" style="left:20.0px;top:709.5px;width:74.0px;height:81.0px;justify-content:flex-start;text-align:left;"><span>Decomposed<br>Granite (DG)</span></div>
<div class="t d" style="left:98.0px;top:709.5px;width:50.3px;height:81.0px;justify-content:center;text-align:center;"><span>Y</span></div>
<div class="t d" style="left:152.0px;top:709.5px;width:52.2px;height:81.0px;justify-content:center;text-align:center;"><span>Y</span></div>
<div class="t d" style="left:208.0px;top:709.5px;width:35.7px;height:81.0px;justify-content:center;text-align:center;"><span>L</span></div>
<div class="t d" style="left:696.7px;top:709.5px;width:56.3px;height:81.0px;justify-content:center;text-align:center;"><span>N/A</span></div>
<div class="t v d" style="left:743.2px;top:723.0px;width:81.0px;height:54.1px;justify-content:center;text-align:center;padding-left:0px;"><span>Crushed<br>rock</span></div>
<div class="t v d" style="left:800.5px;top:723.8px;width:81.0px;height:52.5px;justify-content:center;text-align:center;padding-left:0px;"><span>Recyclable;<br>landfill</span></div>
<div class="t d" style="left:247.5px;top:709.5px;width:30.8px;height:81.0px;justify-content:center;text-align:center;"><span>X</span></div>
<div class="t d" style="left:346.6px;top:709.5px;width:30.1px;height:81.0px;justify-content:center;text-align:center;"><span>X</span></div>
<div class="t d" style="left:409.5px;top:709.5px;width:31.0px;height:81.0px;justify-content:center;text-align:center;"><span>VL</span></div>
<div class="t v d" style="left:438.1px;top:715.1px;width:81.0px;height:69.8px;justify-content:center;text-align:center;padding-left:0px;"><span>Patching</span></div>
<div class="t d" style="left:513.5px;top:709.5px;width:33.0px;height:81.0px;justify-content:center;text-align:center;"><span>X</span></div>
<div class="t d" style="left:546.5px;top:709.5px;width:32.2px;height:81.0px;justify-content:center;text-align:center;"><span>X</span></div>
<div class="t v d" style="left:611.9px;top:709.1px;width:81.0px;height:81.8px;justify-content:center;text-align:center;padding-left:0px;"><span>5&ndash;10 yrs</span></div>
<div class="t v d" style="left:857.4px;top:722.9px;width:81.0px;height:54.2px;justify-content:center;text-align:center;padding-left:0px;"><span>Slightly<br>increases<br>heat</span></div>
<div class="t d" style="left:925.0px;top:709.5px;width:33.0px;height:81.0px;justify-content:center;text-align:center;"><span>N/A</span></div>
<div class="t d" style="left:961.7px;top:709.5px;width:30.8px;height:81.0px;justify-content:center;text-align:center;"><span>N/A</span></div>
<div class="t d" style="left:992.5px;top:709.5px;width:32.8px;height:81.0px;justify-content:center;text-align:center;"><span>D<sup>4</sup></span></div>
<div class="t d" style="left:1025.3px;top:709.5px;width:31.4px;height:81.0px;justify-content:center;text-align:center;"><span>N</span></div>
<div class="t d" style="left:1090.8px;top:709.5px;width:32.9px;height:81.0px;justify-content:center;text-align:center;"><span>X</span></div>
<div class="t d" style="left:1123.7px;top:709.5px;width:33.0px;height:81.0px;justify-content:center;text-align:center;"><span>X</span></div>
<div class="t m" style="left:20.0px;top:794.2px;width:74.0px;height:80.2px;justify-content:flex-start;text-align:left;"><span>Engineered<br>wood fiber<br>(EWF)</span></div>
<div class="t d" style="left:98.0px;top:794.2px;width:50.3px;height:80.2px;justify-content:center;text-align:center;"><span>Y</span></div>
<div class="t d" style="left:152.0px;top:794.2px;width:52.2px;height:80.2px;justify-content:center;text-align:center;"><span>N</span></div>
<div class="t d" style="left:208.0px;top:794.2px;width:35.7px;height:80.2px;justify-content:center;text-align:center;"><span>L</span></div>
<div class="t d" style="left:696.7px;top:794.2px;width:56.3px;height:80.2px;justify-content:center;text-align:center;"><span>15+ yrs</span></div>
<div class="t v d" style="left:743.7px;top:807.2px;width:80.2px;height:54.1px;justify-content:center;text-align:center;padding-left:0px;"><span>Wood</span></div>
<div class="t v d" style="left:800.9px;top:808.0px;width:80.2px;height:52.5px;justify-content:center;text-align:center;padding-left:0px;"><span>Bio-<br>degradable</span></div>
<div class="t d" style="left:247.5px;top:794.2px;width:30.8px;height:80.2px;justify-content:center;text-align:center;"><span>X</span></div>
<div class="t d" style="left:278.3px;top:794.2px;width:33.0px;height:80.2px;justify-content:center;text-align:center;"><span>X</span></div>
<div class="t d" style="left:376.7px;top:794.2px;width:32.8px;height:80.2px;justify-content:center;text-align:center;"><span>X</span></div>
<div class="t d" style="left:409.5px;top:794.2px;width:31.0px;height:80.2px;justify-content:center;text-align:center;"><span>L</span></div>
<div class="t v d" style="left:438.5px;top:799.4px;width:80.2px;height:69.8px;justify-content:center;text-align:center;padding-left:0px;"><span>Top off<sup>6</sup></span></div>
<div class="t d" style="left:513.5px;top:794.2px;width:33.0px;height:80.2px;justify-content:center;text-align:center;"><span>X</span></div>
<div class="t d" style="left:546.5px;top:794.2px;width:32.2px;height:80.2px;justify-content:center;text-align:center;"><span>X</span></div>
<div class="t v d" style="left:612.3px;top:793.4px;width:80.2px;height:81.8px;justify-content:center;text-align:center;padding-left:0px;"><span>Every<br>1&ndash;3 yrs</span></div>
<div class="t v d" style="left:857.8px;top:807.2px;width:80.2px;height:54.2px;justify-content:center;text-align:center;padding-left:0px;"><span>Moderates<br>temperatures</span></div>
<div class="t d" style="left:925.0px;top:794.2px;width:33.0px;height:80.2px;justify-content:center;text-align:center;"><span>N/A</span></div>
<div class="t d" style="left:961.7px;top:794.2px;width:30.8px;height:80.2px;justify-content:center;text-align:center;"><span>N/A</span></div>
<div class="t d" style="left:992.5px;top:794.2px;width:32.8px;height:80.2px;justify-content:center;text-align:center;"><span>Y</span></div>
<div class="t d" style="left:1025.3px;top:794.2px;width:31.4px;height:80.2px;justify-content:center;text-align:center;"><span>N</span></div>
<div class="t d" style="left:1156.7px;top:794.2px;width:31.3px;height:80.2px;justify-content:center;text-align:center;"><span>X</span></div>
<div class="t m" style="left:20.0px;top:878.2px;width:74.0px;height:76.4px;justify-content:flex-start;text-align:left;"><span>Wood chips</span></div>
<div class="t d" style="left:98.0px;top:878.2px;width:50.3px;height:76.4px;justify-content:center;text-align:center;"><span>N</span></div>
<div class="t d" style="left:152.0px;top:878.2px;width:52.2px;height:76.4px;justify-content:center;text-align:center;"><span>N</span></div>
<div class="t d" style="left:208.0px;top:878.2px;width:35.7px;height:76.4px;justify-content:center;text-align:center;"><span>VL</span></div>
<div class="t d" style="left:696.7px;top:878.2px;width:56.3px;height:76.4px;justify-content:center;text-align:center;"><span>N/A</span></div>
<div class="t v d" style="left:745.5px;top:889.4px;width:76.4px;height:54.1px;justify-content:center;text-align:center;padding-left:0px;"><span>Wood</span></div>
<div class="t v d" style="left:802.8px;top:890.2px;width:76.4px;height:52.5px;justify-content:center;text-align:center;padding-left:0px;"><span>Bio-<br>degradable</span></div>
<div class="t d" style="left:247.5px;top:878.2px;width:30.8px;height:76.4px;justify-content:center;text-align:center;"><span>X</span></div>
<div class="t d" style="left:278.3px;top:878.2px;width:33.0px;height:76.4px;justify-content:center;text-align:center;"><span>X</span></div>
<div class="t d" style="left:311.3px;top:878.2px;width:30.5px;height:76.4px;justify-content:center;text-align:center;"><span>X</span></div>
<div class="t d" style="left:346.6px;top:878.2px;width:30.1px;height:76.4px;justify-content:center;text-align:center;"><span>X</span></div>
<div class="t d" style="left:376.7px;top:878.2px;width:32.8px;height:76.4px;justify-content:center;text-align:center;"><span>X</span></div>
<div class="t d" style="left:409.5px;top:878.2px;width:31.0px;height:76.4px;justify-content:center;text-align:center;"><span>M</span></div>
<div class="t v d" style="left:440.4px;top:881.5px;width:76.4px;height:69.8px;justify-content:center;text-align:center;padding-left:0px;"><span>Top off</span></div>
<div class="t d" style="left:513.5px;top:878.2px;width:33.0px;height:76.4px;justify-content:center;text-align:center;"><span>X</span></div>
<div class="t d" style="left:546.5px;top:878.2px;width:32.2px;height:76.4px;justify-content:center;text-align:center;"><span>X</span></div>
<div class="t d" style="left:578.7px;top:878.2px;width:32.8px;height:76.4px;justify-content:center;text-align:center;"><span>X</span></div>
<div class="t v d" style="left:614.2px;top:875.5px;width:76.4px;height:81.8px;justify-content:center;text-align:center;padding-left:0px;"><span>Every<br>1&ndash;3 yrs</span></div>
<div class="t v d" style="left:859.7px;top:889.3px;width:76.4px;height:54.2px;justify-content:center;text-align:center;padding-left:0px;"><span>Moderates<br>temperatures</span></div>
<div class="t d" style="left:925.0px;top:878.2px;width:33.0px;height:76.4px;justify-content:center;text-align:center;"><span>N/A</span></div>
<div class="t d" style="left:961.7px;top:878.2px;width:30.8px;height:76.4px;justify-content:center;text-align:center;"><span>N/A</span></div>
<div class="t d" style="left:992.5px;top:878.2px;width:32.8px;height:76.4px;justify-content:center;text-align:center;"><span>Y</span></div>
<div class="t d" style="left:1025.3px;top:878.2px;width:31.4px;height:76.4px;justify-content:center;text-align:center;"><span>N</span></div>
<div class="t d" style="left:1156.7px;top:878.2px;width:31.3px;height:76.4px;justify-content:center;text-align:center;"><span>X</span></div>
</body></html>
